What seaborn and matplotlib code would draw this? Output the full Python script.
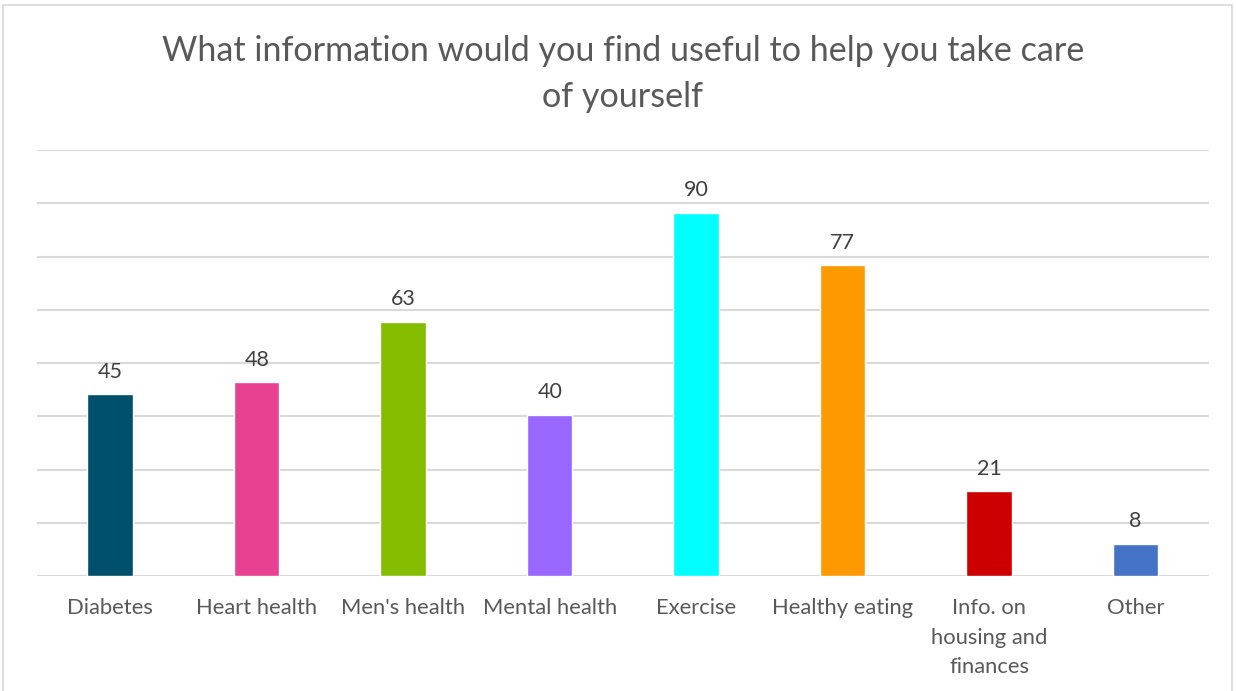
import matplotlib
matplotlib.use("Agg")
import matplotlib.pyplot as plt
import numpy as np
import pandas as pd
import seaborn as sns
from matplotlib.patches import Rectangle

# --- Data --------------------------------------------------------------------
categories = [
    "Diabetes",
    "Heart health",
    "Men's health",
    "Mental health",
    "Exercise",
    "Healthy eating",
    "Info. on\nhousing and\nfinances",
    "Other",
]
counts = [45, 48, 63, 40, 90, 77, 21, 8]
bar_colors = ["#004F6B", "#E84093", "#84BD00", "#9966FF",
              "#00FFFF", "#FF9900", "#CC0000", "#4472C4"]

TITLE = "What information would you find useful to help you take care\nof yourself"
TEXT_GREY = "#595959"
GRID_GREY = "#D9D9D9"

sns.set_theme(style="white")
plt.rcParams["font.family"] = ["Lato", "DejaVu Sans"]

df = pd.DataFrame({"category": categories, "count": counts})

fig = plt.figure(figsize=(12.36, 6.91), dpi=100)
ax = fig.add_axes([0.0299, 0.1664, 0.9482, 0.6165])

sns.barplot(data=df, x="category", y="count", hue="category",
            palette=bar_colors, width=0.31, legend=False, ax=ax,
            saturation=1)

ax.set_ylim(0, 105.6)
ax.set_xlim(-0.5, len(categories) - 0.5)
ax.set_yticks(np.linspace(0, 105.6, 9))
ax.set_yticklabels([])
ax.tick_params(axis="y", length=0)
ax.tick_params(axis="x", length=0, pad=16, labelsize=15.8, labelcolor=TEXT_GREY)
for lbl in ax.get_xticklabels():
    lbl.set_linespacing(1.6)
    lbl.set_verticalalignment("top")
ax.yaxis.grid(True, color=GRID_GREY, linewidth=1.5)
ax.set_axisbelow(True)
for side in ["top", "right", "left", "bottom"]:
    ax.spines[side].set_visible(False)
ax.set_xlabel("")
ax.set_ylabel("")

for container in ax.containers:
    ax.bar_label(container, padding=9, fontsize=15.5, color="#404040")

fig.suptitle(TITLE, x=0.504, y=0.950, fontsize=24.6, color=TEXT_GREY,
             linespacing=1.55, va="top")

# light chart-area border
fig.patches.append(Rectangle((0.0025, -0.01), 0.9945, 1.003, transform=fig.transFigure,
                             fill=False, edgecolor=GRID_GREY, linewidth=1.2))

fig.savefig("out.png", dpi=100)
